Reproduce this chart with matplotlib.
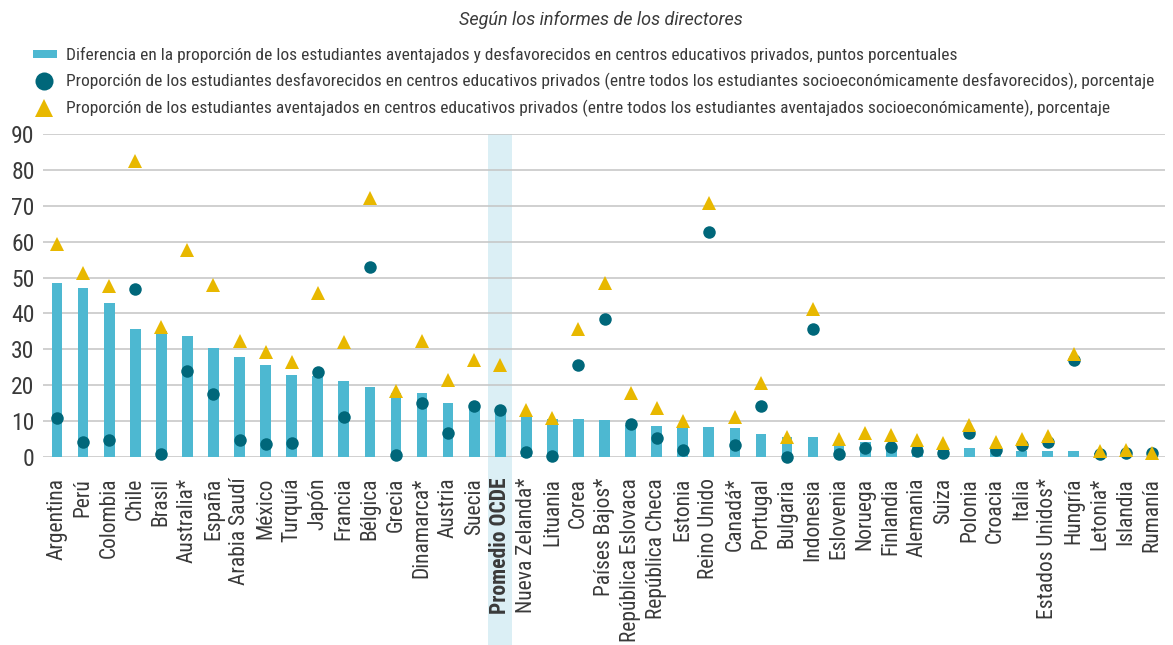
import matplotlib
matplotlib.use("Agg")
import matplotlib.pyplot as plt
from matplotlib.lines import Line2D
from matplotlib.patches import Rectangle
from matplotlib import font_manager as fm

categories = ["Argentina", "Perú", "Colombia", "Chile", "Brasil", "Australia*", "España",
              "Arabia Saudí", "México", "Turquía", "Japón", "Francia", "Bélgica", "Grecia",
              "Dinamarca*", "Austria", "Suecia", "Promedio OCDE", "Nueva Zelanda*", "Lituania",
              "Corea", "Países Bajos*", "República Eslovaca", "República Checa", "Estonia",
              "Reino Unido", "Canadá*", "Portugal", "Bulgaria", "Indonesia", "Eslovenia",
              "Noruega", "Finlandia", "Alemania", "Suiza", "Polonia", "Croacia", "Italia",
              "Estados Unidos*", "Hungría", "Letonia*", "Islandia", "Rumanía"]

difference = [48.6, 47.1, 43.0, 35.7, 35.0, 33.8, 30.3, 27.8, 25.6, 22.8, 22.6, 21.2, 19.4, 17.7,
              17.7, 15.0, 13.4, 12.6, 11.5, 10.6, 10.5, 10.2, 8.8, 8.5, 8.5, 8.3, 8.1, 6.4,
              5.7, 5.6, 4.3, 4.2, 3.2, 2.9, 2.6, 2.4, 2.4, 1.7, 1.8, 1.7, 1.0, 0.7, 0.2]

disadvantaged = [10.8, 4.2, 4.7, 46.8, 0.8, 24.0, 17.6, 4.6, 3.6, 4.0, 23.7, 11.1, 52.9, 0.5,
                 15.0, 6.6, 14.1, 13.0, 1.5, 0.3, 25.5, 38.5, 9.2, 5.3, 1.9, 62.8, 3.3, 14.2,
                 0.1, 35.8, 0.8, 2.4, 2.9, 1.8, 1.2, 6.6, 1.9, 3.3, 4.3, 27.0, 0.8, 1.2, 1.0]

advantaged = [59.3, 51.2, 47.7, 82.5, 36.1, 57.7, 47.8, 32.3, 29.2, 26.4, 45.7, 32.1, 72.1, 18.5,
              32.4, 21.5, 27.0, 25.5, 13.1, 11.0, 35.8, 48.6, 17.7, 13.7, 10.1, 70.9, 11.2, 20.5,
              5.7, 41.2, 5.1, 6.6, 6.1, 4.7, 3.8, 8.9, 4.3, 5.0, 5.9, 28.7, 1.8, 1.9, 1.2]

yticks = [0, 10, 20, 30, 40, 50, 60, 70, 80, 90]
highlight = "Promedio OCDE"

legend_labels = [
    "Diferencia en la proporción de los estudiantes aventajados y desfavorecidos en centros educativos privados, puntos porcentuales",
    "Proporción de los estudiantes desfavorecidos en centros educativos privados (entre todos los estudiantes socioeconómicamente desfavorecidos), porcentaje",
    "Proporción de los estudiantes aventajados en centros educativos privados (entre todos los estudiantes aventajados socioeconómicamente), porcentaje",
]
title = "Según los informes de los directores"

# ---- find a condensed sans font if one is installed ----
def find_font(weight_bold=False, italic=False):
    best = None
    for f in fm.fontManager.ttflist:
        fn = f.fname.lower()
        if not any(k in fn for k in ("condensed", "narrow")) and f.stretch not in ("condensed", "semi-condensed"):
            continue
        if "serif" in f.name.lower() and "sans" not in f.name.lower():
            continue
        if "mono" in f.name.lower():
            continue
        w = f.weight if isinstance(f.weight, int) else (700 if "bold" in str(f.weight) else 400)
        isb = w >= 600
        isi = f.style != "normal"
        if isb != weight_bold or isi != italic:
            continue
        if "extra" in fn or "light" in fn or "semi" in fn or "medium" in fn or "black" in fn or "thin" in fn:
            continue
        score = 0
        if "roboto" in fn: score = 4
        elif "liberation" in fn: score = 3
        elif "opensans" in fn or "open sans" in f.name.lower(): score = 2
        elif "dejavu" in fn: score = 1
        if best is None or score > best[0]:
            best = (score, f.fname)
    return best[1] if best else None

reg = find_font()
bold = find_font(weight_bold=True)
FP = fm.FontProperties(fname=reg) if reg else fm.FontProperties(family="DejaVu Sans")
FPB = fm.FontProperties(fname=bold) if bold else fm.FontProperties(family="DejaVu Sans", weight="bold")
FPI = fm.FontProperties(family=["Roboto", "DejaVu Sans"], style="italic")

def fp(base, size):
    p = base.copy()
    p.set_size(size)
    return p

BAR = "#4db8d1"
CIRC = "#00677a"
TRI = "#e8b800"
BAND = "#dbeff5"
GRID = "#c4c4c4"
TXT = "#3a3a3a"

W, H = 1173, 645
fig = plt.figure(figsize=(W / 100, H / 100), dpi=100)
ax = fig.add_axes([43 / W, 1 - 457 / H, (1165 - 43) / W, (457 - 134) / H])

x = list(range(len(categories)))
hi = categories.index(highlight)
ax.add_patch(Rectangle((hi - 0.465, -53), 0.93, 143, facecolor=BAND, edgecolor='none',
                       zorder=0, clip_on=False))

ax.bar(x, difference, width=0.41, color=BAR, zorder=2)
ax.plot(x, disadvantaged, linestyle='none', marker='o', markersize=9, color=CIRC,
        markeredgewidth=0, zorder=3, clip_on=False)
ax.plot(x, advantaged, linestyle='none', marker='^', markersize=10, color=TRI,
        markeredgewidth=0, zorder=4, clip_on=False)

ax.set_ylim(0, 90)
ax.set_xlim(-0.54, len(categories) - 0.5)
ax.set_yticks(yticks)
ax.set_yticklabels([str(v) for v in yticks], color=TXT, fontproperties=fp(FP, 17))
ax.yaxis.grid(True, color=GRID, linewidth=1.1, zorder=1)
ax.set_axisbelow(True)
ax.tick_params(axis='y', length=0, pad=6)
ax.tick_params(axis='x', length=0, pad=15)
ax.set_xticks(x)
ax.set_xticklabels(categories, rotation=90, color=TXT, fontproperties=fp(FP, 15.5))
for lbl in ax.get_xticklabels():
    if lbl.get_text() == highlight:
        lbl.set_fontproperties(fp(FPB, 15.5))
for s in ax.spines.values():
    s.set_visible(False)

# Title
fig.text(601 / W, 1 - 20 / H, title, ha='center', va='center', color=TXT,
         fontproperties=fp(FPI, 13))

# Legend (manual)
ly = [55, 81, 108]
fig.add_artist(Rectangle((33 / W, 1 - 58 / H), 24 / W, 8 / H, transform=fig.transFigure,
                         facecolor=BAR, edgecolor='none'))
fig.add_artist(Line2D([44 / W], [1 - ly[1] / H], marker='o', markersize=13, color=CIRC,
                      markeredgewidth=0, linestyle='none', transform=fig.transFigure))
fig.add_artist(Line2D([44 / W], [1 - ly[2] / H], marker='^', markersize=13, color=TRI,
                      markeredgewidth=0, linestyle='none', transform=fig.transFigure))
for yy, t in zip(ly, legend_labels):
    fig.text(66 / W, 1 - yy / H, t, ha='left', va='center', color=TXT,
             fontproperties=fp(FP, 12.5))

fig.savefig("out.png", dpi=100)
